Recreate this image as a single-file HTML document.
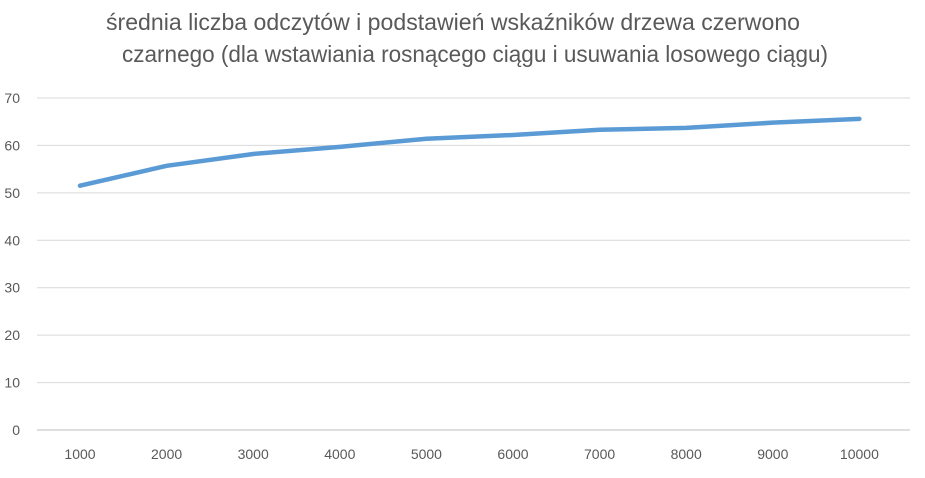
<!DOCTYPE html>
<html><head><meta charset="utf-8"><style>
body{margin:0;background:#fff;}
svg{display:block;font-family:"Liberation Sans",sans-serif;}
</style></head><body>
<svg id="chart" width="925" height="478">
<text x="453" y="30" text-anchor="middle" font-size="23" fill="#595959" textLength="694" lengthAdjust="spacingAndGlyphs">średnia liczba odczytów i podstawień wskaźników drzewa czerwono</text>
<text x="475" y="62" text-anchor="middle" font-size="23" fill="#595959" textLength="706" lengthAdjust="spacingAndGlyphs">czarnego (dla wstawiania rosnącego ciągu i usuwania losowego ciągu)</text>
<g id="grid"></g><g id="xlabels"></g><g id="ylabels"></g><g id="series"></g>
</svg>
<script>
const categories=[1000,2000,3000,4000,5000,6000,7000,8000,9000,10000];
const values=[51.5,55.7,58.2,59.7,61.4,62.2,63.3,63.7,64.8,65.6];
const yTicks=[0,10,20,30,40,50,60,70];
const NS="http://www.w3.org/2000/svg";
const left=37,right=910,y0=430,y70=98,band=86.6;
function xs(i){return 80+band*i;}
function ys(v){return y0-(y0-y70)*v/70;}
function mk(t,a,p){const e=document.createElementNS(NS,t);for(const k in a)e.setAttribute(k,a[k]);document.getElementById(p).appendChild(e);return e;}
yTicks.forEach(v=>{
 const l=mk('line',{x1:left,x2:right,y1:ys(v),y2:ys(v),stroke:v===0?'#bfbfbf':'#d9d9d9','stroke-width':1},'grid');
 
 
 const t=mk('text',{x:20,y:ys(v)+5,'text-anchor':'end','font-size':14,fill:'#595959'},'ylabels');
 t.textContent=v;
 
 
});
categories.forEach((c,i)=>{
 const t=mk('text',{x:xs(i),y:459,'text-anchor':'middle','font-size':14,fill:'#595959'},'xlabels');
 t.textContent=c;
 
 
});
const p=mk('polyline',{points:values.map((v,i)=>xs(i)+','+ys(v)).join(' '),fill:'none',stroke:'#5b9bd5','stroke-width':4.5,'stroke-linejoin':'round','stroke-linecap':'round'},'series');


</script>
</body></html>
